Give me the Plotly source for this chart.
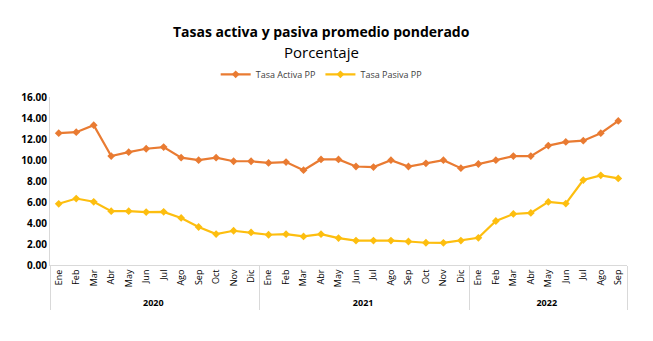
import plotly.graph_objects as go

# Monthly series, Jan 2020 - Sep 2022
meses = ["Ene", "Feb", "Mar", "Abr", "May", "Jun", "Jul", "Ago", "Sep", "Oct", "Nov", "Dic"]
anios = ["2020"] * 12 + ["2021"] * 12 + ["2022"] * 9
mes_labels = meses * 2 + meses[:9]

tasa_activa = [12.55, 12.65, 13.32, 10.37, 10.75, 11.07, 11.23, 10.22, 9.98, 10.22, 9.88, 9.88,
               9.72, 9.80, 9.03, 10.05, 10.05, 9.38, 9.33, 9.98, 9.38, 9.68, 9.98, 9.22,
               9.62, 9.98, 10.37, 10.37, 11.37, 11.72, 11.84, 12.55, 13.72]
tasa_pasiva = [5.83, 6.33, 6.02, 5.13, 5.13, 5.04, 5.06, 4.48, 3.62, 2.95, 3.26, 3.10,
               2.88, 2.94, 2.72, 2.94, 2.56, 2.33, 2.33, 2.33, 2.24, 2.12, 2.11, 2.33,
               2.59, 4.19, 4.86, 4.96, 6.01, 5.85, 8.09, 8.54, 8.25]

y_ticks = [0, 2, 4, 6, 8, 10, 12, 14, 16]

titulo = "Tasas activa y pasiva promedio ponderado"
subtitulo = "Porcentaje"

FONT = "Open Sans"
N = len(mes_labels)

# year group labels shown in bold
anios_b = [f"<b>{a}</b>" for a in anios]

fig = go.Figure()
fig.add_trace(go.Scatter(
    x=[anios_b, mes_labels], y=tasa_activa, name="Tasa Activa PP",
    mode="lines+markers",
    line=dict(color="#E97B32", width=2.2),
    marker=dict(symbol="diamond", size=6, color="#E97B32"),
))
fig.add_trace(go.Scatter(
    x=[anios_b, mes_labels], y=tasa_pasiva, name="Tasa Pasiva PP",
    mode="lines+markers",
    line=dict(color="#FDBE0F", width=2.2),
    marker=dict(symbol="diamond", size=6, color="#FDBE0F"),
))

fig.update_layout(
    width=653, height=341,
    margin=dict(l=50, r=26, t=97, b=76),
    paper_bgcolor="white", plot_bgcolor="white",
    font=dict(family=FONT, color="#000000"),
    legend=dict(
        orientation="h", x=0.47, xanchor="center", y=1.135, yanchor="middle",
        font=dict(family=FONT, size=9, color="#404040"),
        itemwidth=30,
    ),
    showlegend=True,
    annotations=[
        dict(text=f"<b>{titulo}</b>", xref="paper", yref="paper", x=0.47, y=1.39,
             xanchor="center", yanchor="middle", showarrow=False,
             font=dict(family=FONT, size=14, color="#000000")),
        dict(text=subtitulo, xref="paper", yref="paper", x=0.47, y=1.27,
             xanchor="center", yanchor="middle", showarrow=False,
             font=dict(family=FONT, size=15, color="#000000")),
    ],
)

fig.update_xaxes(
    type="multicategory",
    range=[-0.5, N - 0.5],
    tickangle=-90,
    tickfont=dict(family=FONT, size=9, color="#000000"),
    showline=True, linecolor="#D9D9D9", linewidth=1,
    showgrid=False, ticks="",
    showdividers=True, dividercolor="#D9D9D9", dividerwidth=1,
)
fig.update_yaxes(
    range=[0, 16], tickvals=y_ticks,
    ticktext=[f"<b>{v:.2f}</b>" for v in y_ticks],
    tickfont=dict(family=FONT, size=10, color="#000000"),
    showgrid=False, zeroline=False,
    showline=True, linecolor="#D9D9D9", linewidth=1,
    ticks="",
)

fig.write_html("out.html")
